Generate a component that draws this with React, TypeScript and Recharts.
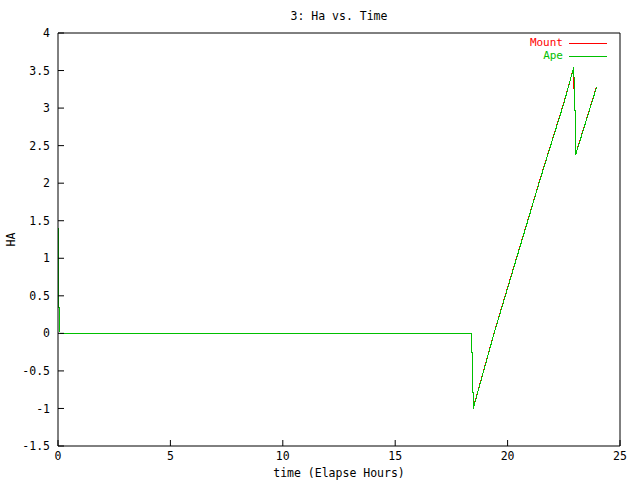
import { LineChart, Line, XAxis, YAxis } from 'recharts';

// time in elapsed hours, HA in hours
const apeTime = [0, 0.03, 0.04, 0.08, 0.09, 18.4, 18.41, 18.43, 18.44, 18.46, 18.47, 18.52, 19.4, 20.5, 21.5, 22.5, 22.95, 22.97, 23.0, 23.02, 23.05, 23.96];
const apeHa = [1.41, 1.05, 0.35, 0.35, 0, 0, -0.25, -0.25, -0.75, -0.75, -1.01, -0.95, 0, 1.1, 2.1, 3.06, 3.55, 2.97, 2.97, 2.37, 2.4, 3.28];

const mountTime = [0, 0.03, 0.04, 0.08, 0.09, 18.4, 18.41, 18.43, 18.44, 18.46, 18.47, 18.52, 19.4, 20.5, 21.5, 22.5, 22.94, 22.97, 23.0, 23.02, 23.05, 23.95];
const mountHa = [1.4, 1.05, 0.35, 0.35, 0, 0, -0.25, -0.25, -0.75, -0.75, -1.0, -0.94, 0.01, 1.11, 2.11, 3.07, 3.54, 2.97, 2.97, 2.38, 2.41, 3.28];

const xTicks = [0, 5, 10, 15, 20, 25];
const yTicks = [-1.5, -1, -0.5, 0, 0.5, 1, 1.5, 2, 2.5, 3, 3.5, 4];

const apeData = apeTime.map((t, i) => ({ t, ha: apeHa[i] }));
const mountData = mountTime.map((t, i) => ({ t, ha: mountHa[i] }));

const FONT = '"DejaVu Sans Mono", "Liberation Mono", monospace';
const RED = '#ff0000';
const GREEN = '#00c000';

const tickText = { fill: '#000', fontSize: 11.5, fontFamily: FONT };

const legendRows = [
  { name: 'Mount', color: RED },
  { name: 'Ape', color: GREEN },
];

// gnuplot-style key in the top right corner, drawn over the plot
function GnuLegend() {
  return (
    <div style={{ position: 'absolute', top: 36, right: 33, fontFamily: FONT, fontSize: 11 }}>
      {legendRows.map((r) => (
        <div key={r.name} style={{ display: 'flex', alignItems: 'flex-start', justifyContent: 'flex-end', height: 13, lineHeight: '13px' }}>
          <span style={{ color: r.color }}>{r.name}</span>
          <span style={{ display: 'inline-block', width: 38, height: 1, marginTop: 7, background: r.color, marginLeft: 6 }} />
        </div>
      ))}
    </div>
  );
}

export default function App() {
  return (
    <div style={{ position: 'absolute', left: 0, top: 0, width: 640, height: 480, background: '#fff' }}>
      <div style={{ position: 'absolute', top: 9, left: 58, width: 562, textAlign: 'center', fontFamily: FONT, fontSize: 11.5 }}>
        3: Ha vs. Time
      </div>
      <LineChart width={640} height={480} margin={{ top: 0, right: 0, left: 0, bottom: 0 }}>
        <XAxis
          dataKey="t"
          type="number"
          domain={[0, 25]}
          ticks={xTicks}
          allowDataOverflow
          height={34}
          stroke="#000"
          tickSize={-6}
          tickMargin={12}
          tick={tickText}
          label={{ value: 'time (Elapse Hours)', position: 'insideBottom', offset: 3, style: tickText }}
        />
        <XAxis
          xAxisId="top"
          orientation="top"
          dataKey="t"
          type="number"
          domain={[0, 25]}
          ticks={xTicks}
          height={33}
          stroke="#000"
          tickSize={-6}
          tick={false}
        />
        <YAxis
          dataKey="ha"
          type="number"
          domain={[-1.5, 4]}
          ticks={yTicks}
          allowDataOverflow
          width={58}
          stroke="#000"
          tickSize={-6}
          tickMargin={14}
          tick={tickText}
          label={{ value: 'HA', angle: -90, position: 'insideLeft', offset: 11, style: { ...tickText, textAnchor: 'middle' } }}
        />
        <YAxis
          yAxisId="right"
          orientation="right"
          type="number"
          domain={[-1.5, 4]}
          ticks={yTicks}
          width={20}
          stroke="#000"
          tickSize={-6}
          tick={false}
        />
        <Line
          data={mountData}
          dataKey="ha"
          name="Mount"
          type="linear"
          stroke={RED}
          strokeWidth={1}
          dot={false}
          shapeRendering="crispEdges"
          isAnimationActive={false}
        />
        <Line
          data={apeData}
          dataKey="ha"
          name="Ape"
          type="linear"
          stroke={GREEN}
          strokeWidth={1}
          dot={false}
          shapeRendering="crispEdges"
          isAnimationActive={false}
        />
      </LineChart>
      <GnuLegend />
    </div>
  );
}
